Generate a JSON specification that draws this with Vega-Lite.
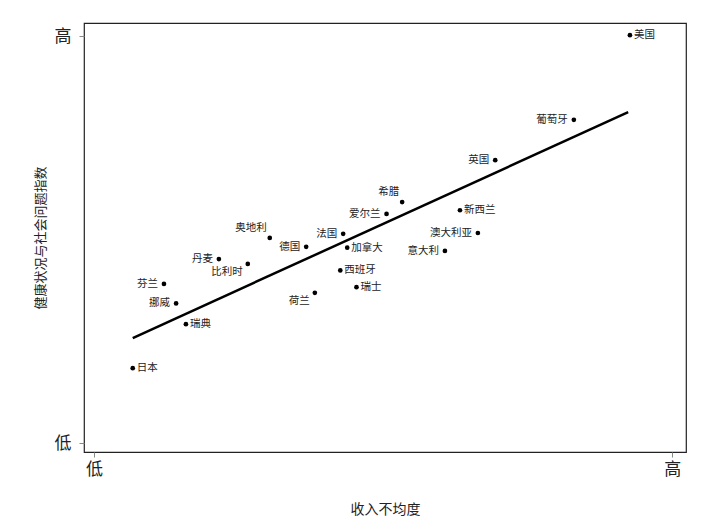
{
  "$schema": "https://vega.github.io/schema/vega-lite/v6.json",
  "width": 602,
  "height": 429,
  "autosize": "none",
  "padding": {"left": 84, "top": 23, "right": 34, "bottom": 78},
  "background": "white",
  "config": {
    "view": {"stroke": "#222", "strokeWidth": 1.2},
    "font": "Noto Sans CJK SC"
  },
  "datasets": {
    "countries": [
      {"country": "美国", "inequality": 92.7, "index": 100.2},
      {"country": "葡萄牙", "inequality": 83.0, "index": 79.4},
      {"country": "英国", "inequality": 69.4, "index": 69.5},
      {"country": "希腊", "inequality": 53.3, "index": 59.2},
      {"country": "爱尔兰", "inequality": 50.6, "index": 56.3},
      {"country": "新西兰", "inequality": 63.3, "index": 57.2},
      {"country": "澳大利亚", "inequality": 66.4, "index": 51.6},
      {"country": "意大利", "inequality": 60.7, "index": 47.2},
      {"country": "法国", "inequality": 43.1, "index": 51.4},
      {"country": "加拿大", "inequality": 43.8, "index": 48.0},
      {"country": "德国", "inequality": 36.7, "index": 48.2},
      {"country": "奥地利", "inequality": 30.4, "index": 50.4},
      {"country": "西班牙", "inequality": 42.6, "index": 42.4},
      {"country": "瑞士", "inequality": 45.4, "index": 38.3},
      {"country": "荷兰", "inequality": 38.2, "index": 36.9},
      {"country": "丹麦", "inequality": 21.6, "index": 45.2},
      {"country": "比利时", "inequality": 26.6, "index": 44.0},
      {"country": "芬兰", "inequality": 12.1, "index": 39.1},
      {"country": "挪威", "inequality": 14.2, "index": 34.3},
      {"country": "瑞典", "inequality": 15.9, "index": 29.2},
      {"country": "日本", "inequality": 6.7, "index": 18.4}
    ],
    "fit": [
      {"inequality": 6.7, "index": 25.8},
      {"inequality": 92.4, "index": 81.3}
    ]
  },
  "encoding": {
    "x": {
      "field": "inequality", "type": "quantitative",
      "scale": {"domain": [-1.73, 102.4], "nice": false, "zero": false},
      "axis": {
        "title": "收入不均度", "values": [0, 100],
        "labelExpr": "datum.value == 0 ? '低' : '高'",
        "grid": false, "domain": false,
        "tickColor": "#888", "tickSize": 5,
        "labelFontSize": 17, "labelColor": "#222", "labelPadding": 4,
        "titleFontSize": 14, "titleFontWeight": "normal", "titleColor": "#222",
        "titlePadding": 25
      }
    },
    "y": {
      "field": "index", "type": "quantitative",
      "scale": {"domain": [-2.2, 103.2], "nice": false, "zero": false},
      "axis": {
        "title": "健康状况与社会问题指数", "values": [0, 100],
        "labelExpr": "datum.value == 0 ? '低' : '高'",
        "grid": false, "domain": false,
        "tickColor": "#888", "tickSize": 5,
        "labelFontSize": 17, "labelColor": "#222", "labelPadding": 8,
        "titleFontSize": 13, "titleFontWeight": "normal", "titleColor": "#222",
        "titlePadding": 7
      }
    }
  },
  "layer": [
    {
      "data": {"name": "fit"},
      "mark": {"type": "line", "color": "black", "strokeWidth": 2.5}
    },
    {
      "data": {"name": "countries"},
      "mark": {"type": "circle", "color": "black", "opacity": 1, "size": 22}
    },
    {
      "data": {"name": "countries"},
      "transform": [{"filter": {"field": "country", "oneOf": ["美国", "新西兰", "加拿大", "西班牙", "瑞士", "瑞典", "日本"]}}],
      "mark": {"type": "text", "align": "left", "baseline": "middle", "dx": 4, "fontSize": 10.5, "color": "#222"},
      "encoding": {"text": {"field": "country"}}
    },
    {
      "data": {"name": "countries"},
      "transform": [{"filter": {"field": "country", "oneOf": ["葡萄牙", "英国", "爱尔兰", "澳大利亚", "意大利", "法国", "德国", "丹麦", "芬兰", "挪威"]}}],
      "mark": {"type": "text", "align": "right", "baseline": "middle", "dx": -6, "fontSize": 10.5, "color": "#222"},
      "encoding": {"text": {"field": "country"}}
    },
    {
      "data": {"name": "countries"},
      "transform": [{"filter": {"field": "country", "oneOf": ["希腊", "奥地利"]}}],
      "mark": {"type": "text", "align": "right", "baseline": "middle", "dx": -3, "dy": -10, "fontSize": 10.5, "color": "#222"},
      "encoding": {"text": {"field": "country"}}
    },
    {
      "data": {"name": "countries"},
      "transform": [{"filter": {"field": "country", "oneOf": ["比利时", "荷兰"]}}],
      "mark": {"type": "text", "align": "right", "baseline": "middle", "dx": -5, "dy": 8, "fontSize": 10.5, "color": "#222"},
      "encoding": {"text": {"field": "country"}}
    }
  ]
}
